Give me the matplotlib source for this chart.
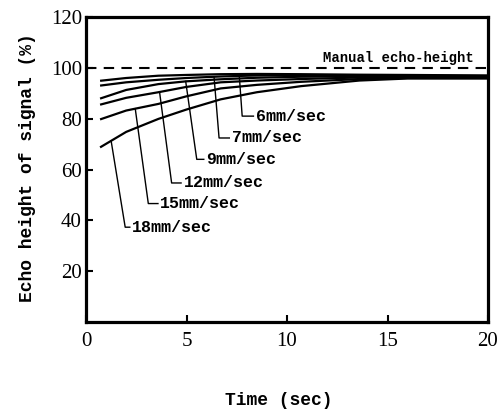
import numpy as np
import matplotlib
matplotlib.use("Agg")
import matplotlib.pyplot as plt

# Data (echo height in % vs time in sec)
time_s = [0.7, 2, 3.6, 5, 6.7, 8.5, 10.7, 13.6, 16, 20]
speed_labels = ['6mm/sec', '7mm/sec', '9mm/sec', '12mm/sec', '15mm/sec', '18mm/sec']
echo_6 = [94.9, 96.0, 96.9, 97.2, 97.5, 97.6, 97.5, 97.3, 97.2, 97.0]
echo_7 = [93.0, 94.3, 95.3, 96.0, 96.6, 97.0, 97.1, 97.0, 96.9, 96.8]
echo_9 = [87.9, 91.3, 93.6, 94.7, 95.5, 96.1, 96.5, 96.7, 96.6, 96.5]
echo_12 = [85.5, 88.2, 90.4, 92.5, 94.3, 95.0, 95.6, 96.2, 96.3, 96.2]
echo_15 = [79.7, 83.2, 85.8, 88.8, 91.9, 93.3, 94.5, 95.6, 96.0, 96.0]
echo_18 = [68.7, 74.8, 79.9, 83.6, 87.6, 90.4, 92.8, 95.0, 95.8, 95.8]
manual_height = 100
manual_label = 'Manual echo-height'

x_ticks = [0, 5, 10, 15, 20]
y_ticks = [20, 40, 60, 80, 100, 120]

# leader layout: (t on curve, t at elbow, y at elbow, t of text)
leaders = [
    (7.62, 7.77, 81.0, 8.45),
    (6.37, 6.62, 72.4, 7.25),
    (4.96, 5.51, 64.0, 5.98),
    (3.66, 4.26, 54.7, 4.85),
    (2.45, 3.10, 46.6, 3.70),
    (1.25, 1.95, 37.3, 2.30),
]

mono = 'Liberation Mono'
serif = 'Liberation Serif'

fig = plt.figure(figsize=(5.01, 4.15), dpi=100)
ax = fig.add_axes([86 / 501, 1 - 322 / 415, (488 - 86) / 501, (322 - 17) / 415])

series = [echo_6, echo_7, echo_9, echo_12, echo_15, echo_18]
for vals, lab, (t0, t1, y1, tt) in zip(series, speed_labels, leaders):
    ax.plot(time_s, vals, color='black', lw=1.6, solid_capstyle='butt')
    y0 = np.interp(t0, time_s, vals)
    ax.plot([t0, t1, tt - 0.12], [y0, y1, y1], color='black', lw=1.0)
    ax.text(tt, y1, lab, fontfamily=mono, fontweight='bold', fontsize=12,
            ha='left', va='center')

ax.axhline(manual_height, color='black', lw=1.5, ls=(0, (5, 3.5)))
ax.text(19.3, manual_height + 1.2, manual_label, fontfamily=mono,
        fontweight='bold', fontsize=10, ha='right', va='bottom')

ax.set_xlim(0, 20)
ax.set_ylim(0, 120)
ax.set_xticks(x_ticks)
ax.set_yticks(y_ticks)
ax.tick_params(direction='in', length=5, width=1.5)
ax.tick_params(axis='x', pad=7)
ax.tick_params(axis='y', pad=3)
for lbl in ax.get_xticklabels() + ax.get_yticklabels():
    lbl.set_fontfamily(serif)
    lbl.set_fontsize(15)
for sp in ax.spines.values():
    sp.set_linewidth(2.3)

fig.text(279 / 501, 1 - 400 / 415, 'Time (sec)', fontfamily=mono,
         fontweight='bold', fontsize=13, ha='center', va='center')
fig.text(28 / 501, 1 - 168 / 415, 'Echo height of signal (%)', fontfamily=mono,
         fontweight='bold', fontsize=13, ha='center', va='center', rotation=90)

fig.savefig('out.png', dpi=100)
